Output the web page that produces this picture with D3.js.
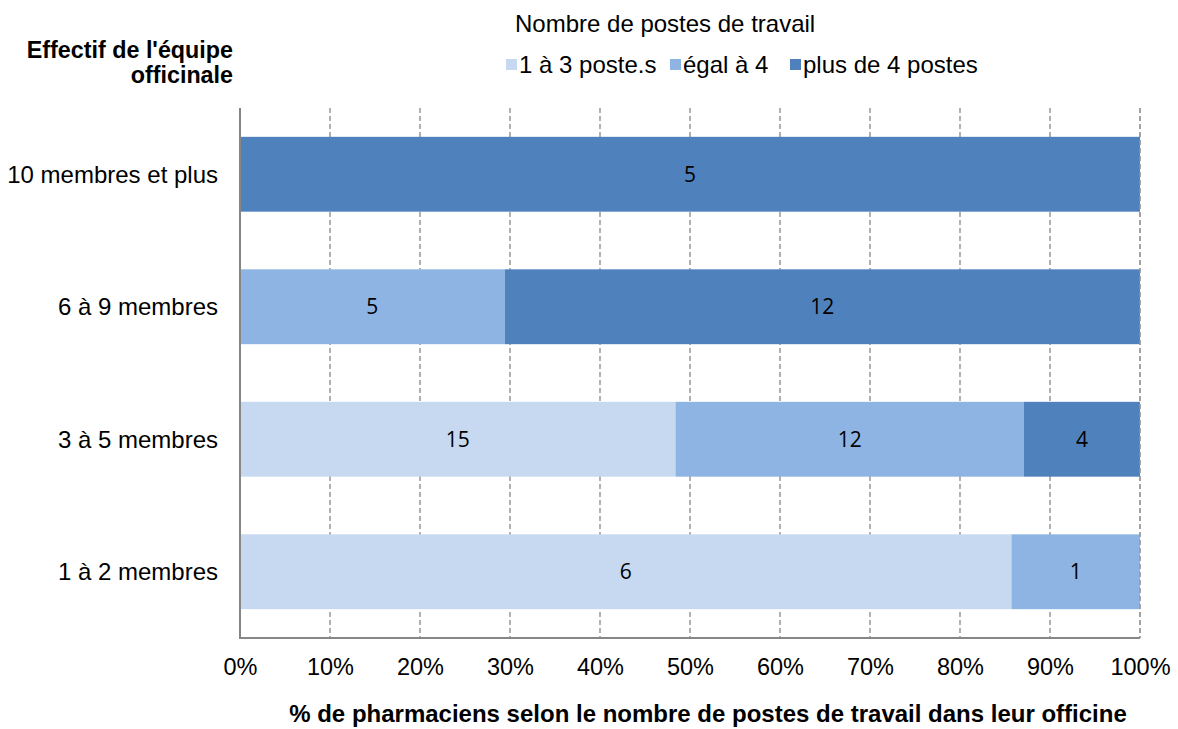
<!DOCTYPE html>
<html><head><meta charset="utf-8">
<script src="https://cdn.jsdelivr.net/npm/d3@7"></script>
<style>body{margin:0;background:#fff;} svg{display:block;}</style>
</head><body>
<svg id="chart" width="1178" height="729"></svg>
<script>
const categories = ["10 membres et plus", "6 à 9 membres", "3 à 5 membres", "1 à 2 membres"];
const seriesNames = ["1 à 3 poste.s", "égal à 4", "plus de 4 postes"];
const series1 = [0, 0, 15, 6];
const series2 = [0, 5, 12, 1];
const series3 = [5, 12, 4, 0];
const tickValues = [0, 0.1, 0.2, 0.3, 0.4, 0.5, 0.6, 0.7, 0.8, 0.9, 1];
const colors = ["#c6d9f1", "#8eb4e3", "#4f81bd"];

(function () {
const svg = d3.select("#chart");
const font = "'Liberation Sans', Arial, sans-serif";
const pLeft = 240, pRight = 1140, pTop = 108, pBottom = 638;

const x = d3.scaleLinear().domain([0, 1]).range([pLeft, pRight]);
const y = d3.scaleBand().domain(categories).range([pTop, pBottom]).paddingInner(0.435).paddingOuter(0.2175);

// gridlines
svg.append("g").selectAll("line").data(tickValues.slice(1)).join("line")
  .attr("x1", d => x(d)).attr("x2", d => x(d))
  .attr("y1", pTop).attr("y2", pBottom)
  .attr("stroke", "#878787").attr("stroke-width", 1.3).attr("stroke-dasharray", "5,3");

// data rows
const rows = categories.map((c, i) => {
  const vals = [series1[i], series2[i], series3[i]];
  const total = d3.sum(vals);
  let acc = 0;
  return vals.map((v, j) => {
    const s = { cat: c, j, v, x0: acc / total, x1: (acc + v) / total };
    acc += v;
    return s;
  }).filter(s => s.v > 0);
}).flat();

svg.append("g").selectAll("rect").data(rows).join("rect")
  .attr("x", d => x(d.x0)).attr("width", d => x(d.x1) - x(d.x0))
  .attr("y", d => y(d.cat)).attr("height", y.bandwidth())
  .attr("fill", d => colors[d.j]);

// last gridline visible along the bar edge
svg.append("line").attr("x1", x(1)).attr("x2", x(1)).attr("y1", pTop).attr("y2", pBottom)
  .attr("stroke", "#9a9a9a").attr("stroke-width", 1.3).attr("stroke-dasharray", "5,3");

svg.append("g").selectAll("text").data(rows).join("text")
  .attr("x", d => (x(d.x0) + x(d.x1)) / 2)
  .attr("y", d => y(d.cat) + y.bandwidth() / 2)
  .attr("dy", "0.36em")
  .attr("text-anchor", "middle")
  .attr("font-family", "'Open Sans', sans-serif").attr("font-size", 21).attr("fill", "#000")
  .text(d => d.v);

// axes lines
svg.append("line").attr("x1", pLeft).attr("x2", pLeft).attr("y1", pTop).attr("y2", pBottom)
  .attr("stroke", "#868686").attr("stroke-width", 2);
svg.append("line").attr("x1", pLeft - 1).attr("x2", pRight).attr("y1", pBottom).attr("y2", pBottom)
  .attr("stroke", "#868686").attr("stroke-width", 2);

// x axis tick labels
const xAxis = d3.axisBottom(x).tickValues(tickValues).tickFormat(d3.format(".0%")).tickSize(0).tickPadding(20);
const gx = svg.append("g").attr("transform", `translate(0,${pBottom})`).call(xAxis);
gx.select(".domain").remove();
gx.selectAll("text").attr("font-family", font).attr("font-size", 23.5).attr("fill", "#000");

// y axis labels
const yAxis = d3.axisLeft(y).tickSize(0).tickPadding(22);
const gy = svg.append("g").attr("transform", `translate(${pLeft},0)`).call(yAxis);
gy.select(".domain").remove();
gy.selectAll("text").attr("font-family", font).attr("font-size", 24).attr("fill", "#000").attr("dy", "0.35em");

// y title
const yt = svg.append("text").attr("text-anchor", "end").attr("font-family", font)
  .attr("font-size", 23.3).attr("font-weight", "bold").attr("fill", "#000");
yt.append("tspan").attr("x", 233).attr("y", 58).text("Effectif de l'équipe");
yt.append("tspan").attr("x", 233).attr("y", 83).text("officinale");

// x title
svg.append("text").attr("x", 708).attr("y", 722).attr("text-anchor", "middle")
  .attr("font-family", font).attr("font-size", 24).attr("font-weight", "bold").attr("fill", "#000")
  .text("% de pharmaciens selon le nombre de postes de travail dans leur officine");

// legend title
svg.append("text").attr("x", 515).attr("y", 32).attr("font-family", font).attr("font-size", 24).attr("fill", "#000")
  .text("Nombre de postes de travail");

// legend
const legX = [506, 670, 790];
const lg = svg.append("g").selectAll("g").data(seriesNames).join("g")
  .attr("transform", (d, i) => `translate(${legX[i]},59)`);
lg.append("rect").attr("width", 11).attr("height", 11).attr("fill", (d, i) => colors[i]);
lg.append("text").attr("x", 13).attr("y", 14).attr("font-family", font).attr("font-size", 24).attr("fill", "#000")
  .text(d => d);
})();
</script>
</body></html>
